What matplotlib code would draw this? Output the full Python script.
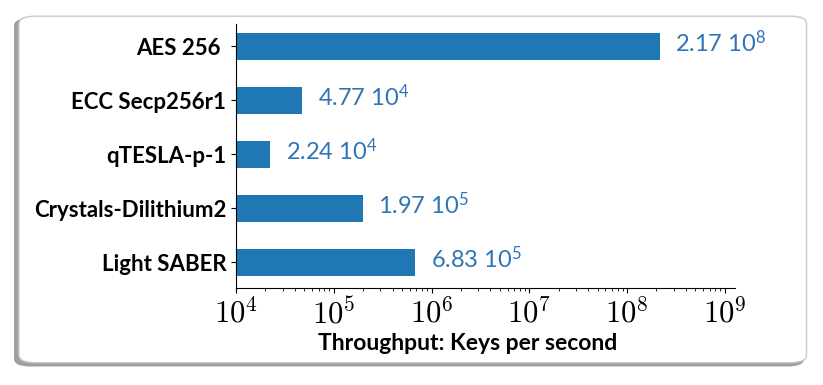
import numpy as np
import matplotlib
matplotlib.use("Agg")
import matplotlib.pyplot as plt
from matplotlib.patches import FancyBboxPatch
from matplotlib.ticker import FuncFormatter, LogLocator

# data
algorithms = ["AES 256 ", "ECC Secp256r1", "qTESLA-p-1", "Crystals-Dilithium2", "Light SABER"]
mantissa = [2.17, 4.77, 2.24, 1.97, 6.83]
exponent = [8, 4, 4, 5, 5]
throughput = [m * 10 ** e for m, e in zip(mantissa, exponent)]

# ticks in Computer Modern, value labels in a sans font
plt.rcParams['mathtext.fontset'] = 'cm'
plt.rcParams['mathtext.rm'] = 'Lato'
plt.rcParams['mathtext.it'] = 'Lato:italic'
plt.rcParams['mathtext.bf'] = 'Lato:bold'

fig = plt.figure(figsize=(8.23, 3.85), dpi=100)

# rounded frame with shadow
shadow = FancyBboxPatch((0.017, 0.048), 0.96, 0.905, boxstyle="round,pad=0,rounding_size=0.02",
                        transform=fig.transFigure, facecolor="#a0a0a0", edgecolor="none", zorder=0)
frame = FancyBboxPatch((0.023, 0.058), 0.957, 0.9, boxstyle="round,pad=0,rounding_size=0.02",
                       transform=fig.transFigure, facecolor="white", edgecolor="#c8c8c8",
                       linewidth=1.0, zorder=1)
fig.patches.extend([shadow, frame])

ax = fig.add_axes([0.2868, 0.252, 0.6062, 0.6857])
ax.set_zorder(2)
ax.patch.set_alpha(0)

y = np.arange(len(algorithms))
ax.barh(y, throughput, height=0.5, color="#1f77b4")
ax.set_xscale("log")
ax.set_xlim(1e4, 1.27e9)
ax.set_ylim(4.48, -0.41)
ax.xaxis.set_major_locator(LogLocator(base=10, numticks=20))
ax.xaxis.set_minor_locator(LogLocator(base=10, subs=np.arange(2, 10), numticks=100))
ax.xaxis.set_major_formatter(FuncFormatter(lambda v, p: r"$10^{%d}$" % round(np.log10(v))))

ax.set_yticks(y)
ax.set_yticklabels(algorithms, fontfamily="Lato", fontweight="bold", fontsize=16)
ax.tick_params(axis="x", labelsize=22)

for yi, v, m, e in zip(y, throughput, mantissa, exponent):
    ax.annotate(r"$\mathrm{%.2f\ 10}^{%d}$" % (m, e), xy=(v, yi), xytext=(11, 2),
                textcoords="offset points", va="center", ha="left",
                color="#2f75b5", fontsize=17, math_fontfamily="custom")

ax.set_xlabel("Throughput: Keys per second", fontfamily="Lato", fontweight="bold", fontsize=16.5)
ax.xaxis.set_label_coords(0.465, -0.17)

ax.spines["top"].set_visible(False)
ax.spines["right"].set_visible(False)

plt.savefig("out.png", dpi=100)
